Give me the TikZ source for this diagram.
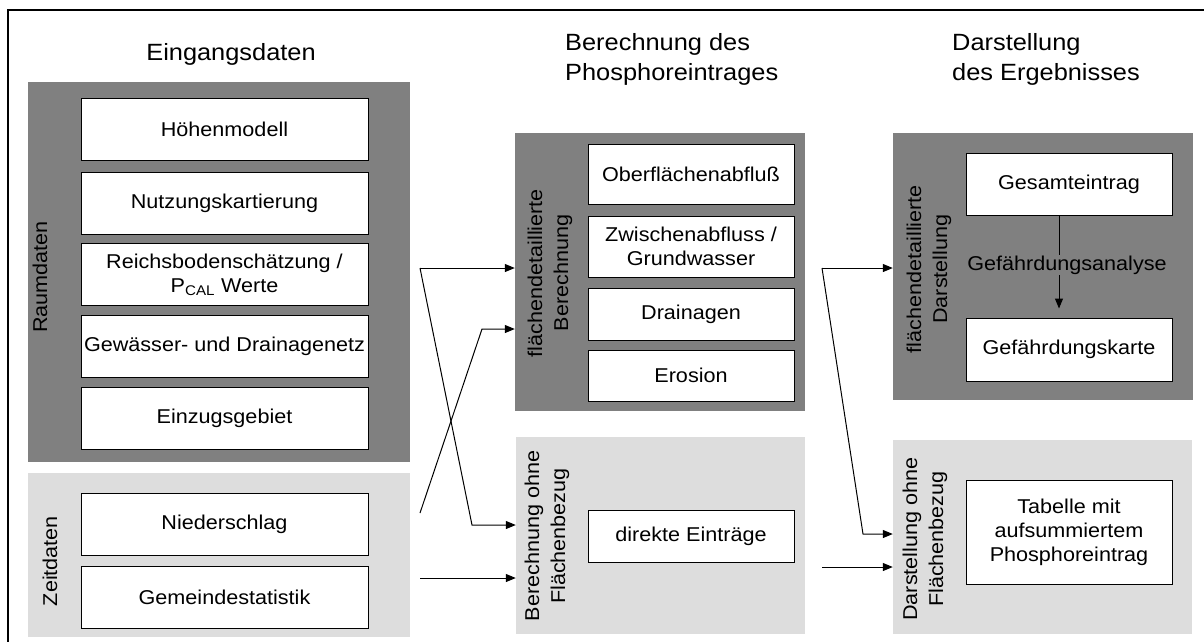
\documentclass[tikz,border=0pt]{standalone}
\usepackage{fontspec}
\setmainfont{Liberation Sans}[FakeStretch=1.08]
\usetikzlibrary{arrows.meta}
\definecolor{dunkelgrau}{gray}{0.5}
\definecolor{hellgrau}{gray}{0.867}

\begin{document}
\begin{tikzpicture}[x=1pt,y=-1pt,
  every node/.style={inner sep=2pt,align=center,font=\fontsize{20}{24}\selectfont},
  feld/.style={fill=#1,inner sep=0pt},
  kasten/.style={draw,fill=white,line width=1pt,minimum height=#1},
  titel/.style={inner sep=0pt,align=left,font=\fontsize{23.5}{30}\selectfont},
  pfeil/.style={line width=1pt,-{Triangle[length=10pt,width=8pt]}}]
  \useasboundingbox (0,0) rectangle (1204,641);
  \clip (0,0) rectangle (1204,641);
  % Rahmen
  \draw[line width=1.2pt] (8,10) rectangle (1220,660);
  % Spaltentitel
  \node[titel,anchor=north] (eingang) at (231,43) {Eingangsdaten};
  \node[titel,anchor=north west] (berechnung) at (565,33) {Berechnung des\\Phosphoreintrages};
  \node[titel,anchor=north west] (darstellung) at (952,33) {Darstellung\\des Ergebnisses};
  % Hintergrundfelder
  \node[feld=dunkelgrau,minimum width=382pt,minimum height=380pt] (raum) at (219,272) {};
  \node[feld=hellgrau,minimum width=382pt,minimum height=164pt] (zeit) at (219,555) {};
  \node[feld=dunkelgrau,minimum width=290pt,minimum height=278pt] (pflaeche) at (660,272) {};
  \node[feld=hellgrau,minimum width=289pt,minimum height=197pt] (pohne) at (660.5,535.5) {};
  \node[feld=dunkelgrau,minimum width=300pt,minimum height=267pt] (dflaeche) at (1043,266.5) {};
  \node[feld=hellgrau,minimum width=299pt,minimum height=194pt] (dohne) at (1042.5,537) {};
  % Feldbeschriftungen (gedreht)
  \begin{scope}[every node/.append style={font=\fontsize{20}{26}\selectfont}]
    \node[rotate=90] (lraum) at (40,277) {Raumdaten};
    \node[rotate=90] (lzeit) at (50,561) {Zeitdaten};
    \node[rotate=90] (lpflaeche) at (550,273) {flächendetaillierte\\Berechnung};
    \node[rotate=90] (lpohne) at (547,536) {Berechnung ohne\\Flächenbezug};
    \node[rotate=90] (ldflaeche) at (929,269) {flächendetaillierte\\Darstellung};
    \node[rotate=90] (ldohne) at (925,539) {Darstellung ohne\\Flächenbezug};
  \end{scope}
  % Eingangsdaten
  \begin{scope}[every node/.append style={minimum width=287pt}]
    \node[kasten=62pt] (hoehe) at (224.5,129) {Höhenmodell};
    \node[kasten=62pt] (nutzung) at (224.5,203.5) {Nutzungskartierung};
    \node[kasten=62pt] (boden) at (224.5,274.5) {Reichsbodenschätzung /\\P\textsubscript{CAL} Werte};
    \node[kasten=62pt] (gewaesser) at (224.5,346.5) {Gewässer- und Drainagenetz};
    \node[kasten=62pt] (einzug) at (224.5,418.5) {Einzugsgebiet};
    \node[kasten=62pt] (nieder) at (224.5,524.5) {Niederschlag};
    \node[kasten=62pt] (gemeinde) at (224.5,597.5) {Gemeindestatistik};
  \end{scope}
  % Berechnung
  \begin{scope}[every node/.append style={minimum width=206pt}]
    \node[kasten=60pt] (oberfl) at (691,174) {Oberflächenabfluß};
    \node[kasten=61pt] (zwischen) at (691,246.5) {Zwischenabfluss /\\Grundwasser};
    \node[kasten=52pt] (drain) at (691,314) {Drainagen};
    \node[kasten=51pt] (erosion) at (691,375.5) {Erosion};
    \node[kasten=52pt] (direkt) at (691,536) {direkte Einträge};
  % Darstellung
    \node[kasten=62pt] (gesamt) at (1069,184) {Gesamteintrag};
    \node[kasten=63pt] (karte) at (1069,349.5) {Gefährdungskarte};
    \node[kasten=104pt] (tabelle) at (1069,532) {Tabelle mit\\aufsummiertem\\Phosphoreintrag};
  \end{scope}
  \coordinate (analysex) at (1059,0);
  \draw[pfeil,shorten >=9pt] (gesamt.south -| analysex) -- (karte.north -| analysex);
  \node[fill=dunkelgrau,inner sep=1pt] (analyse) at (1067,265) {Gefährdungsanalyse};
  % Verbindungen links -> Mitte
  \coordinate (rd) at (420,268);
  \coordinate (nd) at (420,513);
  \coordinate (gs) at (420,578);
  \coordinate (knick1) at (482,329);
  \coordinate (knick2) at (472,525);
  \draw[pfeil] (rd) -- (rd -| pflaeche.west);
  \draw[pfeil] (rd) -- (knick2) -- (knick2 -| pohne.west);
  \draw[pfeil] (nd) -- (knick1) -- (knick1 -| pflaeche.west);
  \draw[pfeil] (gs) -- (gs -| pohne.west);
  % Verbindungen Mitte -> rechts
  \coordinate (ge) at (822,268);
  \coordinate (ta) at (822,567);
  \coordinate (knick3) at (863,534);
  \draw[pfeil] (ge) -- (ge -| dflaeche.west);
  \draw[pfeil] (ge) -- (knick3) -- (knick3 -| dohne.west);
  \draw[pfeil] (ta) -- (ta -| dohne.west);
\end{tikzpicture}
\end{document}
